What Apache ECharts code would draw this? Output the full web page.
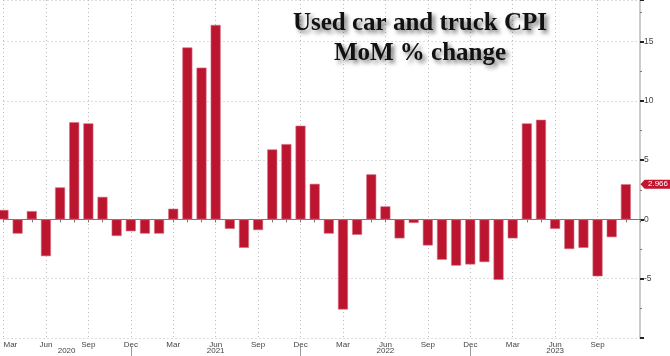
<!DOCTYPE html>
<html>
<head>
<meta charset="utf-8">
<script src="https://cdn.jsdelivr.net/npm/echarts@6/dist/echarts.min.js"></script>
<style>
html,body{margin:0;padding:0;background:#fff;}
#chart{width:670px;height:356px;}
</style>
</head>
<body>
<div id="chart"></div>
<script>
// Month categories Mar 2020 .. Dec 2023
const months = ['Mar','Apr','May','Jun','Jul','Aug','Sep','Oct','Nov','Dec',
  'Jan','Feb','Mar','Apr','May','Jun','Jul','Aug','Sep','Oct','Nov','Dec',
  'Jan','Feb','Mar','Apr','May','Jun','Jul','Aug','Sep','Oct','Nov','Dec',
  'Jan','Feb','Mar','Apr','May','Jun','Jul','Aug','Sep','Oct','Nov','Dec'];
const years = ['2020','2020','2020','2020','2020','2020','2020','2020','2020','2020',
  '2021','2021','2021','2021','2021','2021','2021','2021','2021','2021','2021','2021',
  '2022','2022','2022','2022','2022','2022','2022','2022','2022','2022','2022','2022',
  '2023','2023','2023','2023','2023','2023','2023','2023','2023','2023','2023','2023'];
// Used car and truck CPI, MoM % change
const values = [0.8,-1.2,0.7,-3.1,2.7,8.2,8.1,1.9,-1.4,-1.0,
  -1.2,-1.2,0.9,14.5,12.8,16.4,-0.8,-2.4,-0.9,5.9,6.35,7.9,
  3.0,-1.2,-7.6,-1.3,3.8,1.1,-1.6,-0.3,-2.2,-3.4,-3.9,-3.8,
  -3.6,-5.1,-1.6,8.1,8.4,-0.8,-2.5,-2.4,-4.8,-1.5,2.966];
const lastValue = values[values.length-1];
const yTicks = {min:-10, max:18.5, interval:5};
const yearLabelIdx = [4,15,27,39];

const chart = echarts.init(document.getElementById('chart'));
chart.setOption({
  animation:false,
  backgroundColor:'#fff',
  title:{
    text:'Used car and truck CPI\nMoM % change',
    left:420, top:9, padding:0,
    textAlign:'center',
    textStyle:{
      fontFamily:'Liberation Serif', fontWeight:'bold', fontSize:25, lineHeight:30,
      color:'#111',
      textShadowColor:'rgba(0,0,0,0.55)', textShadowBlur:4,
      textShadowOffsetX:3, textShadowOffsetY:3
    }
  },
  grid:{left:3.5,right:30,top:0,bottom:18,containLabel:false},
  xAxis:[{
    type:'category', data:months, boundaryGap:false,
    axisLine:{show:true,lineStyle:{color:'#777',width:1}},
    axisTick:{show:true,interval:0,length:3,lineStyle:{color:'#777'}},
    axisLabel:{
      interval:(i)=> i%3===0 && i<months.length-1,
      fontFamily:'Liberation Sans', fontSize:8, color:'#444', margin:3,
      alignMinLabel:'left'
    },
    splitLine:{show:true,interval:(i)=> i%3===0,
      lineStyle:{color:'#bbb',type:[1,3],width:1}}
  },{
    type:'category', data:months, boundaryGap:false, position:'bottom', offset:9,
    axisLine:{show:false},
    axisTick:{show:true,interval:(i)=> months[i]==='Dec' && i<months.length-1,
      length:9,lineStyle:{color:'#999'}},
    axisLabel:{
      interval:(i)=> yearLabelIdx.indexOf(i)>=0,
      formatter:(v,i)=> i===4 ? '{s|'+years[i]+'}' : years[i],
      rich:{s:{padding:[0,0,0,13],fontFamily:'Liberation Sans',fontSize:8,color:'#444'}},
      fontFamily:'Liberation Sans', fontSize:8, color:'#444', margin:0
    },
    splitLine:{show:false}
  }],
  yAxis:{
    type:'value', position:'right', min:yTicks.min, max:yTicks.max, interval:yTicks.interval,
    axisLine:{show:true,lineStyle:{color:'#ccc',width:2}},
    axisTick:{show:true,length:4,lineStyle:{color:'#222',width:2}},
    minorTick:{show:true,splitNumber:2,length:2,lineStyle:{color:'#777'}},
    axisLabel:{fontFamily:'Liberation Sans',fontSize:8.5,color:'#444',margin:4,
      showMinLabel:false,showMaxLabel:false},
    splitLine:{show:true,lineStyle:{color:'#bbb',type:[1,3],width:1}}
  },
  series:[{
    type:'bar', data:values, barWidth:10, clip:false,
    itemStyle:{color:'#bb1530',borderColor:'#d9707f',borderWidth:0.6},
    markPoint:{
      silent:true,
      data:[{coord:[months.length-1, lastValue]}],
      symbol:'path://M0,5 L4,0 L30,0 L30,10 L4,10 Z',
      symbolSize:[31,9], symbolOffset:[16,0], symbolKeepAspect:false,
      itemStyle:{color:'#c0162f'},
      label:{show:true,position:'inside',formatter:String(lastValue),offset:[2,0],
        color:'#fff',fontFamily:'Liberation Sans',fontSize:8}
    }
  }]
});
</script>
</body>
</html>
